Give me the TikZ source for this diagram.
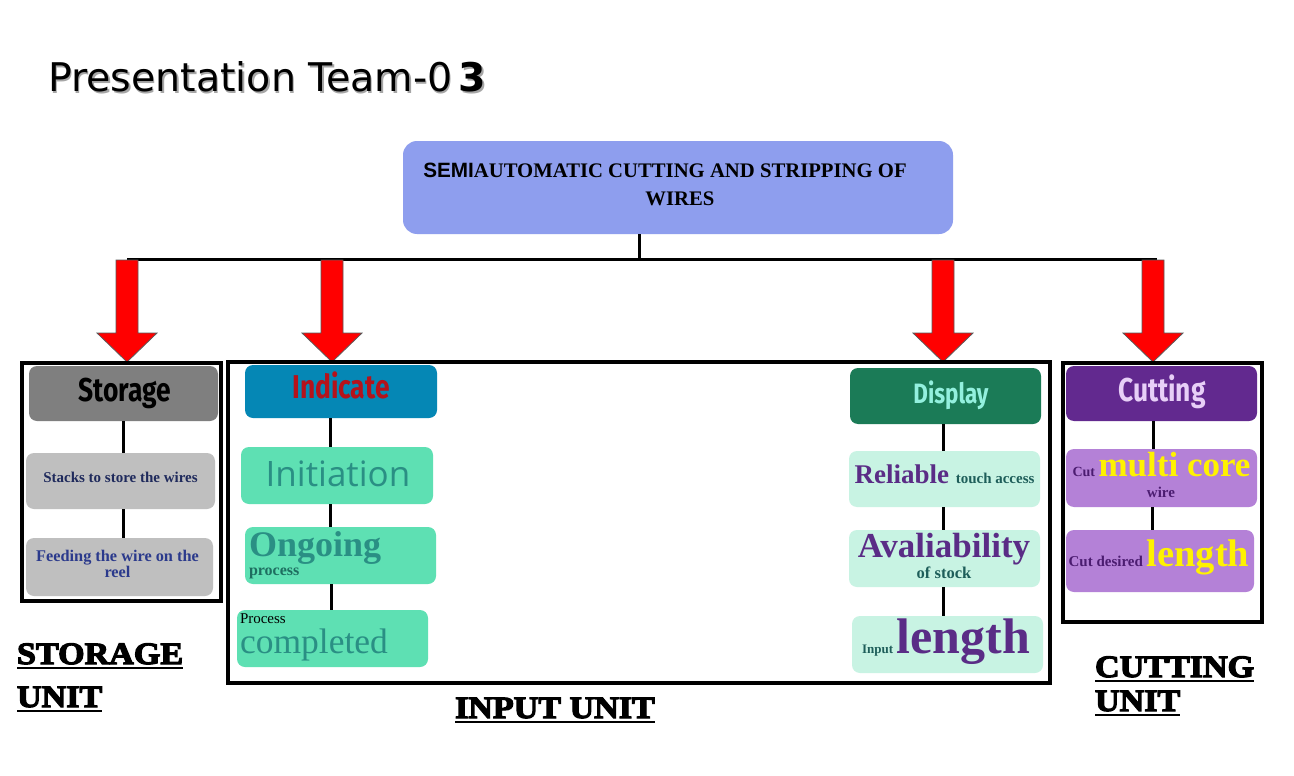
\documentclass[tikz,border=0pt]{standalone}
\usepackage{fontspec}
\setmainfont{Liberation Serif}
\newfontfamily\titlefont{DejaVu Sans}
\newfontfamily\hdrfont[FakeStretch=0.8]{Fira Sans}
\newfontfamily\sansb{Liberation Sans}
\newfontfamily\openf{Open Sans}
\newfontfamily\fatfont[FakeStretch=1.1,BoldFeatures={FakeBold=4}]{Liberation Serif}
\definecolor{topc}{HTML}{8E9EEE}
\definecolor{stH}{HTML}{7F7F7F}
\definecolor{stB}{HTML}{BFBFBF}
\definecolor{stT1}{HTML}{1F2A5C}
\definecolor{stT2}{HTML}{2B3A8C}
\definecolor{inH}{HTML}{0587B5}
\definecolor{inHT}{HTML}{B5121B}
\definecolor{inB}{HTML}{5EE0B3}
\definecolor{inT}{HTML}{2A8F84}
\definecolor{inT2}{HTML}{1E6E60}
\definecolor{diH}{HTML}{1B7B57}
\definecolor{diHT}{HTML}{93F0DE}
\definecolor{diB}{HTML}{C8F3E3}
\definecolor{diP}{HTML}{5A2C86}
\definecolor{diS}{HTML}{1E5E5A}
\definecolor{cuH}{HTML}{62298F}
\definecolor{cuHT}{HTML}{E7CFF7}
\definecolor{cuB}{HTML}{B481D7}
\definecolor{cuY}{HTML}{FFF200}
\definecolor{cuS}{HTML}{4B1C70}
\definecolor{arrowedge}{HTML}{5A5A5A}
\newcommand\fs[1]{\fontsize{#1}{#1}\selectfont}
\newcommand\redarrow[2]{\filldraw[rarrow] (#1-11,#2) -- ++(22,0) -- ++(0,73) -- ++(19,0) -- (#1,#2+102) -- ++(-30,-29) -- ++(19,0) -- cycle;}
\begin{document}
\begin{tikzpicture}[x=1pt,y=-1pt,
  box/.style={rounded corners=8pt, inner sep=0pt, draw=none},
  frame/.style={draw=black, line width=4pt, inner sep=0pt},
  conn/.style={draw=black, line width=3pt},
  rarrow/.style={fill=red, draw=arrowedge, line width=0.8pt},
  txt/.style={inner sep=0pt, outer sep=0pt},
  hdr/.style={txt, font=\hdrfont\bfseries\fs{33}},
  lbl/.style={txt, anchor=base west, font=\fatfont\bfseries\fs{31}},
  uline/.style={draw=black, line width=2pt}]
\useasboundingbox[fill=white] (0,0) rectangle (1294,776);

% title
\node[txt, anchor=base west, text=black!35] at (49.5,93.5) {\titlefont\fs{39.5}Presentation Team-0\,{\bfseries 3}};
\node[txt, anchor=base west] (title) at (48,92) {\titlefont\fs{39.5}Presentation Team-0\,{\bfseries 3}};

% top box
\node[box, fill=topc, rounded corners=14pt, minimum width=550pt, minimum height=93pt] (top) at (678,187.5) {};
\node[txt, anchor=base] (tl1) at (665,177) {\fs{20.7}{\sansb\bfseries SEMI}\bfseries AUTOMATIC CUTTING AND STRIPPING OF};
\node[txt, anchor=base] (tl2) at (680,205) {\fs{20.7}\bfseries WIRES};

% bus
\coordinate (bl) at (127,259);
\coordinate (br) at (1157,259);
\draw[conn] ([xshift=-39pt]top.south) -- ([xshift=-39pt]top.south |- bl);
\draw[conn] (bl) -- (br);

% red arrows
\redarrow{127}{260}
\redarrow{332}{260}
\redarrow{943}{260}
\redarrow{1153}{260}

% ---------- storage ----------
\node[frame, minimum width=199pt, minimum height=238pt] (sf) at (121.5,482) {};
\node[box, fill=stH, minimum width=189pt, minimum height=55pt] (sh) at (123.5,393.5) {};
\node[hdr, anchor=base, text=black] at (125,401) {Storage};
\node[box, fill=stB, minimum width=189pt, minimum height=56pt] (s1) at (120.5,481) {};
\node[txt, anchor=base, text=stT1, font=\bfseries\fs{15}] at (120.5,482) {Stacks to store the wires};
\node[box, fill=stB, minimum width=187pt, minimum height=58pt] (s2) at (119.5,567) {};
\node[txt, anchor=base, text=stT2, font=\bfseries\fs{16.3}] at (117.5,561) {Feeding the wire on the};
\node[txt, anchor=base, text=stT2, font=\bfseries\fs{16.3}] at (117.5,577) {reel};
\draw[conn] (sh.south) -- (sh.south |- s1.north);
\draw[conn] (s1.south -| sh.south) -- (sh.south |- s2.north);

% ---------- input ----------
\node[frame, minimum width=822pt, minimum height=321pt] (inf) at (639,522.5) {};
\node[box, fill=inH, minimum width=192pt, minimum height=53pt] (ih) at (341,391.5) {};
\node[hdr, anchor=base, text=inHT] at (341,398) {Indicate};
\node[box, fill=inB, minimum width=192pt, minimum height=57pt] (i1) at (337,475.5) {};
\node[txt, anchor=base, text=inT, font=\openf\fs{35}] at (338,486) {Initiation};
\node[box, fill=inB, minimum width=191pt, minimum height=57pt] (i2) at (340.5,555.5) {};
\node[txt, anchor=base west, text=inT, font=\bfseries\fs{36}] at (249,556) {Ongoing};
\node[txt, anchor=base west, text=inT2, font=\bfseries\fs{16}] at (249,575) {process};
\node[box, fill=inB, minimum width=191pt, minimum height=57pt] (i3) at (332.5,638.5) {};
\node[txt, anchor=base west, text=black, font=\fs{15}] at (240,623) {Process};
\node[txt, anchor=base west, text=inT, font=\fs{35.5}] at (240,653) {completed};
\draw[conn] (330,418) -- (330,447);
\draw[conn] (330,504) -- (330,527);
\draw[conn] (331,584) -- (331,610);

\node[box, fill=diH, minimum width=191pt, minimum height=56pt] (dh) at (945.5,396) {};
\node[hdr, anchor=base, text=diHT, font=\hdrfont\bfseries\fs{28}] at (951,403) {Display};
\node[box, fill=diB, minimum width=191pt, minimum height=56pt] (d1) at (944.5,479) {};
\node[txt, anchor=base, text=diP] at (944.5,483) {\bfseries\fs{27}Reliable {\color{diS}\fs{15}touch access}};
\node[box, fill=diB, minimum width=191pt, minimum height=57pt] (d2) at (944.5,558.5) {};
\node[txt, anchor=base, text=diP, font=\bfseries\fs{35}] at (944,557) {Avaliability};
\node[txt, anchor=base, text=diS, font=\bfseries\fs{16.5}] at (944,578) {of stock};
\node[box, fill=diB, minimum width=191pt, minimum height=57pt] (d3) at (947.5,644.5) {};
\node[txt, anchor=base, text=diP] at (946,653) {{\color{diS}\bfseries\fs{13}Input }\bfseries\fs{50}length};
\draw[conn] (dh.south -| 943,0) -- (d1.north -| 943,0);
\draw[conn] (d1.south -| 943,0) -- (d2.north -| 943,0);
\draw[conn] (d2.south -| 943,0) -- (d3.north -| 943,0);

% ---------- cutting ----------
\node[frame, minimum width=199pt, minimum height=259pt] (cf) at (1162.5,492.5) {};
\node[box, fill=cuH, minimum width=191pt, minimum height=55pt] (ch) at (1161.5,393.5) {};
\node[hdr, anchor=base, text=cuHT, font=\hdrfont\bfseries\fs{33}] at (1162,401) {Cutting};
\node[box, fill=cuB, minimum width=191pt, minimum height=58pt] (c1) at (1161.5,478) {};
\node[txt, anchor=base, text=cuS] at (1161.5,476) {{\bfseries\fs{14}Cut }{\color{cuY}\bfseries\fs{35}multi core}};
\node[txt, anchor=base, text=cuS, font=\bfseries\fs{15}] at (1161,497) {wire};
\node[box, fill=cuB, minimum width=188pt, minimum height=62pt] (c2) at (1160,561) {};
\node[txt, anchor=base, text=cuS] at (1159,566) {{\bfseries\fs{15}Cut desired }{\color{cuY}\bfseries\fs{38.5}length}};
\draw[conn] (1153,421) -- (1153,449);
\draw[conn] (1152,507) -- (1152,530);

% ---------- labels ----------
\node[lbl] (lst) at (17,664) {STORAGE};
\draw[uline] ([yshift=-4pt]lst.base west) -- ([yshift=-4pt]lst.base east);
\node[lbl] (lstu) at (17,707) {UNIT};
\draw[uline] ([yshift=-4pt]lstu.base west) -- ([yshift=-4pt]lstu.base east);
\node[lbl] (lin) at (455,718) {INPUT UNIT};
\draw[uline] ([yshift=-4pt]lin.base west) -- ([yshift=-4pt]lin.base east);
\node[lbl] (lcu) at (1095,677) {CUTTING};
\draw[uline] ([yshift=-4pt]lcu.base west) -- ([yshift=-4pt]lcu.base east);
\node[lbl] (lcuu) at (1095,711) {UNIT};
\draw[uline] ([yshift=-4pt]lcuu.base west) -- ([yshift=-4pt]lcuu.base east);
\end{tikzpicture}
\end{document}
